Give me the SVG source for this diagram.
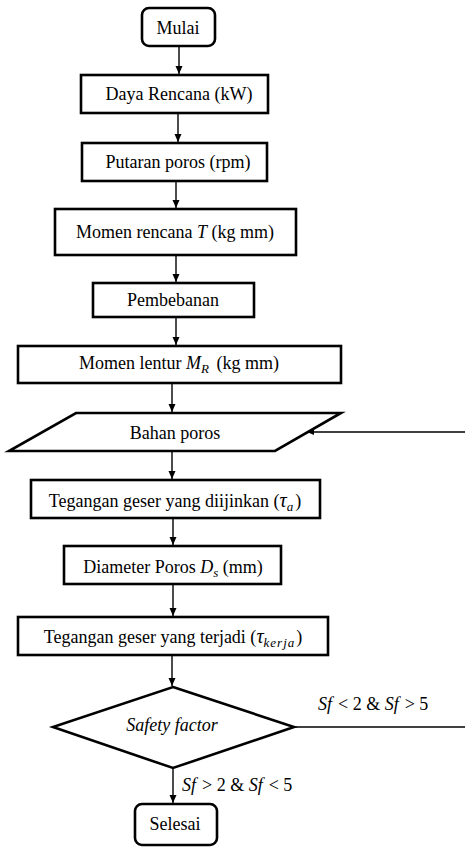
<svg xmlns="http://www.w3.org/2000/svg" width="465" height="848" viewBox="0 0 465 848">
<style>
  .box { fill: #fff; stroke: #000; stroke-width: 2.6; }
  .t { font-family: "Liberation Serif", "Times New Roman", serif; font-size: 18px; fill: #000; text-anchor: middle; }
  .tl { font-family: "Liberation Serif", "Times New Roman", serif; font-size: 18px; fill: #000; }
  .i { font-style: italic; }
  .sub { font-style: italic; font-size: 13px; }
  .c { stroke: #000; stroke-width: 1.4; fill: none; }
</style>
<defs>
  <marker id="ah" markerWidth="8" markerHeight="8" viewBox="0 0 8 8" refX="8" refY="4" orient="auto" markerUnits="userSpaceOnUse">
    <path d="M0,0.5 L8,4 L0,7.5 Z" fill="#000"/>
  </marker>
  <marker id="ah2" markerWidth="7" markerHeight="7" viewBox="0 0 7 7" refX="7" refY="3.5" orient="auto" markerUnits="userSpaceOnUse">
    <path d="M0,0.5 L7,3.5 L0,6.5 Z" fill="#000"/>
  </marker>
</defs>

<g id="connectors">
  <line class="c" x1="179" y1="46" x2="179" y2="74" marker-end="url(#ah)"/>
  <line class="c" x1="178" y1="113" x2="178" y2="142" marker-end="url(#ah)"/>
  <line class="c" x1="176" y1="181" x2="176" y2="208" marker-end="url(#ah)"/>
  <line class="c" x1="176" y1="255" x2="176" y2="282" marker-end="url(#ah)"/>
  <line class="c" x1="176" y1="317" x2="176" y2="345" marker-end="url(#ah)"/>
  <line class="c" x1="172" y1="383" x2="172" y2="412" marker-end="url(#ah)"/>
  <line class="c" x1="172" y1="451" x2="172" y2="479" marker-end="url(#ah)"/>
  <line class="c" x1="173" y1="518" x2="173" y2="545" marker-end="url(#ah)"/>
  <line class="c" x1="173" y1="584" x2="173" y2="616" marker-end="url(#ah)"/>
  <line class="c" x1="172" y1="655" x2="172" y2="686" marker-end="url(#ah)"/>
  <line class="c" x1="173" y1="768" x2="173" y2="803" marker-end="url(#ah)"/>
  <line class="c" x1="465" y1="432" x2="307" y2="432" stroke-width="1.1" marker-end="url(#ah2)"/>
  <line class="c" x1="294" y1="727" x2="465" y2="727" stroke-width="1.1"/>
  <text class="tl" x="318" y="710"><tspan class="i">Sf</tspan><tspan dx="6">&lt; 2 &amp; </tspan><tspan class="i">Sf</tspan><tspan dx="6">&gt; 5</tspan></text>
  <text class="tl" x="182" y="791"><tspan class="i">Sf</tspan><tspan dx="6">&gt; 2 &amp; </tspan><tspan class="i">Sf</tspan><tspan dx="6">&lt; 5</tspan></text>
</g>

<g id="mulai">
  <rect class="box" x="142" y="8" width="73" height="38" rx="7"/>
  <text class="t" x="178" y="34">Mulai</text>
</g>
<g id="daya">
  <rect class="box" x="81" y="75" width="187" height="38"/>
  <text class="t" x="179" y="100">Daya Rencana (kW)</text>
</g>
<g id="putaran">
  <rect class="box" x="82" y="143" width="185" height="38"/>
  <text class="t" x="178" y="168">Putaran poros (rpm)</text>
</g>
<g id="momen-rencana">
  <rect class="box" x="55" y="209" width="241" height="46"/>
  <text class="t" x="175" y="238">Momen rencana <tspan class="i">T</tspan> (kg mm)</text>
</g>
<g id="pembebanan">
  <rect class="box" x="93" y="283" width="161" height="34"/>
  <text class="t" x="173" y="306">Pembebanan</text>
</g>
<g id="momen-lentur">
  <rect class="box" x="18" y="346" width="323" height="37"/>
  <text class="t" x="179" y="369">Momen lentur <tspan class="i">M</tspan><tspan class="sub" dy="4">R</tspan><tspan dy="-4" dx="3"> (kg mm)</tspan></text>
</g>
<g id="bahan">
  <polygon class="box" points="76,413 341,413 275,451 9,451"/>
  <text class="t" x="175" y="439">Bahan poros</text>
</g>
<g id="tegangan-ijin">
  <rect class="box" x="31" y="480" width="289" height="38"/>
  <text class="t" x="175" y="507">Tegangan geser yang diijinkan (<tspan class="i" font-size="20">τ</tspan><tspan class="sub" dy="4">a</tspan><tspan dy="-4" dx="2">)</tspan></text>
</g>
<g id="diameter">
  <rect class="box" x="64" y="546" width="217" height="38"/>
  <text class="t" x="173" y="573">Diameter Poros <tspan class="i">D</tspan><tspan class="sub" dy="4">s</tspan><tspan dy="-4"> (mm)</tspan></text>
</g>
<g id="tegangan-terjadi">
  <rect class="box" x="18" y="617" width="310" height="38"/>
  <text class="t" x="173" y="643">Tegangan geser yang terjadi (<tspan class="i" font-size="20">τ</tspan><tspan class="sub" dy="4" letter-spacing="1">kerja</tspan><tspan dy="-4" dx="1">)</tspan></text>
</g>
<g id="safety">
  <polygon class="box" points="173,687 294,727 173,768 53,727"/>
  <text class="t i" x="172" y="731" font-size="17">Safety factor</text>
</g>
<g id="selesai">
  <rect class="box" x="135" y="804" width="82" height="41" rx="7"/>
  <text class="t" x="175" y="830">Selesai</text>
</g>
</svg>
